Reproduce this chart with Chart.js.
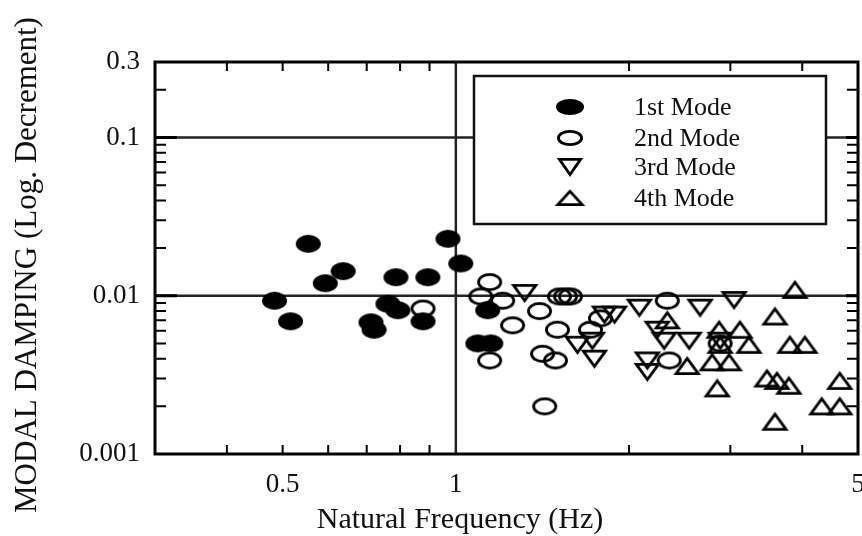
<!DOCTYPE html>
<html>
<head>
<meta charset="utf-8">
<script src="https://cdn.jsdelivr.net/npm/chart.js@4.4.1/dist/chart.umd.min.js"></script>
<style>
html,body{margin:0;padding:0;background:#fff;}
#wrap{width:862px;height:536px;}
</style>
</head>
<body>
<div id="wrap"><canvas id="c" width="862" height="536"></canvas></div>
<script>
// ---------- data ----------
const seriesNames = ['1st Mode', '2nd Mode', '3rd Mode', '4th Mode'];

const mode1Freq = [0.484, 0.516, 0.554, 0.593, 0.637, 0.712, 0.721, 0.762, 0.793, 0.787, 0.894, 0.877, 0.969, 1.020, 1.136, 1.092, 1.150];
const mode1Damp = [0.0093, 0.0069, 0.0213, 0.0120, 0.0143, 0.0068, 0.0061, 0.0089, 0.0081, 0.0131, 0.0131, 0.0069, 0.0229, 0.0160, 0.0081, 0.0050, 0.0050];

const mode2Freq = [0.877, 1.145, 1.105, 1.206, 1.398, 1.255, 1.514, 1.551, 1.582, 1.502, 1.145, 1.415, 1.490, 1.427, 1.714, 1.784, 2.331, 2.349, 2.880];
const mode2Damp = [0.0083, 0.0122, 0.0099, 0.0093, 0.0080, 0.0065, 0.0099, 0.0099, 0.0099, 0.0061, 0.0039, 0.0043, 0.0039, 0.0020, 0.0061, 0.0072, 0.0093, 0.0039, 0.0050];

const mode3Freq = [1.317, 1.627, 1.727, 1.741, 1.812, 1.887, 2.084, 2.658, 3.045, 2.239, 2.302, 2.544, 2.152, 2.152, 2.880];
const mode3Damp = [0.0104, 0.0049, 0.0052, 0.0040, 0.0076, 0.0076, 0.0084, 0.0084, 0.0094, 0.0061, 0.0052, 0.0052, 0.0039, 0.0033, 0.0052];

const mode4Freq = [3.885, 3.586, 2.331, 2.868, 3.118, 3.232, 2.524, 2.789, 2.985, 2.846, 3.807, 4.043, 3.473, 3.615, 3.792, 4.648, 4.325, 4.648, 3.586, 2.880];
const mode4Damp = [0.0109, 0.0074, 0.0070, 0.0061, 0.0061, 0.0049, 0.0036, 0.0038, 0.0038, 0.0026, 0.0049, 0.0049, 0.0030, 0.0029, 0.0027, 0.0029, 0.0020, 0.0020, 0.0016, 0.0049];

const xTickValues = [0.5, 1, 5];
const yTickValues = [0.001, 0.01, 0.1, 0.3];
const xMinorTicks = [0.4, 0.5, 0.6, 0.7, 0.8, 0.9, 2, 3, 4];
const yMinorTicks = [0.002, 0.003, 0.004, 0.005, 0.006, 0.007, 0.008, 0.009,
                     0.02, 0.03, 0.04, 0.05, 0.06, 0.07, 0.08, 0.09, 0.2];
const yGridValues = [0.01, 0.1];
const xGridValues = [1];
const xTitle = 'Natural Frequency (Hz)';
const yTitle = 'MODAL DAMPING (Log. Decrement)';

// ---------- markers ----------
function makeMarker(kind, w, h, lw) {
  const pad = 3;
  const c = document.createElement('canvas');
  c.width = Math.round(w + 2 * pad);
  c.height = Math.round(h + 2 * pad);
  const g = c.getContext('2d');
  const cx = c.width / 2, cy = c.height / 2;
  g.strokeStyle = '#000';
  g.fillStyle = '#000';
  g.lineWidth = lw;
  g.lineJoin = 'miter';
  g.beginPath();
  if (kind === 'filled') {
    g.ellipse(cx, cy, w / 2, h / 2, 0, 0, Math.PI * 2);
    g.fill();
  } else if (kind === 'open') {
    g.ellipse(cx, cy, w / 2 - lw / 2, h / 2 - lw / 2, 0, 0, Math.PI * 2);
    g.stroke();
  } else if (kind === 'down') {
    g.moveTo(cx - w / 2 + lw / 2, cy - h / 2 + lw / 2);
    g.lineTo(cx + w / 2 - lw / 2, cy - h / 2 + lw / 2);
    g.lineTo(cx, cy + h / 2 - lw / 2);
    g.closePath();
    g.stroke();
  } else {
    g.moveTo(cx - w / 2 + lw / 2, cy + h / 2 - lw / 2);
    g.lineTo(cx + w / 2 - lw / 2, cy + h / 2 - lw / 2);
    g.lineTo(cx, cy - h / 2 + lw / 2);
    g.closePath();
    g.stroke();
  }
  return c;
}
const markerKinds = ['filled', 'open', 'down', 'up'];
const dataMarkers = markerKinds.map(k => makeMarker(k, 25, 18, 2.8));
const legendMarkers = [
  makeMarker('filled', 28, 16, 2.8),
  makeMarker('open', 26, 16, 2.8),
  makeMarker('down', 24, 18, 2.8),
  makeMarker('up', 27, 16, 2.8)
];

function pts(xs, ys) { return xs.map((x, i) => ({ x: x, y: ys[i] })); }
const allFreq = [mode1Freq, mode2Freq, mode3Freq, mode4Freq];
const allDamp = [mode1Damp, mode2Damp, mode3Damp, mode4Damp];

const datasets = seriesNames.map((name, i) => ({
  label: name,
  data: pts(allFreq[i], allDamp[i]),
  pointStyle: dataMarkers[i],
  pointRadius: 10,
  pointHoverRadius: 10,
  showLine: false
}));

const SERIF = '"Liberation Serif", "Times New Roman", serif';
const INK = '#111';

// ---------- custom drawing plugin ----------
const framePlugin = {
  id: 'framePlugin',
  beforeDatasetsDraw(chart) {
    const { ctx, chartArea: a, scales: { x, y } } = chart;
    ctx.save();
    ctx.strokeStyle = '#222';
    ctx.lineWidth = 2.5;
    yGridValues.forEach(v => {
      const py = y.getPixelForValue(v);
      ctx.beginPath(); ctx.moveTo(a.left, py); ctx.lineTo(a.right, py); ctx.stroke();
    });
    xGridValues.forEach(v => {
      const px = x.getPixelForValue(v);
      ctx.beginPath(); ctx.moveTo(px, a.top); ctx.lineTo(px, a.bottom); ctx.stroke();
    });
    ctx.strokeStyle = '#000';
    ctx.lineWidth = 2;
    yMinorTicks.forEach(v => {
      const py = y.getPixelForValue(v);
      ctx.beginPath();
      ctx.moveTo(a.left, py); ctx.lineTo(a.left + 11, py);
      ctx.moveTo(a.right, py); ctx.lineTo(a.right - 11, py);
      ctx.stroke();
    });
    xMinorTicks.forEach(v => {
      const px = x.getPixelForValue(v);
      ctx.beginPath();
      ctx.moveTo(px, a.bottom); ctx.lineTo(px, a.bottom - 9);
      ctx.moveTo(px, a.top); ctx.lineTo(px, a.top + 9);
      ctx.stroke();
    });
    ctx.lineWidth = 3.2;
    yGridValues.forEach(v => {
      const py = y.getPixelForValue(v);
      ctx.beginPath();
      ctx.moveTo(a.left, py); ctx.lineTo(a.left + 22, py);
      ctx.moveTo(a.right, py); ctx.lineTo(a.right - 12, py);
      ctx.stroke();
    });
    ctx.restore();
  },
  afterDatasetsDraw(chart) {
    const { ctx, chartArea: a } = chart;
    ctx.save();
    ctx.strokeStyle = '#000';
    ctx.lineWidth = 3;
    ctx.strokeRect(a.left, a.top, a.right - a.left, a.bottom - a.top);
    ctx.restore();
  },
  afterDraw(chart) {
    const { ctx } = chart;
    ctx.save();
    ctx.fillStyle = '#fff';
    ctx.fillRect(474, 76, 352, 148);
    ctx.strokeStyle = '#111';
    ctx.lineWidth = 2.5;
    ctx.strokeRect(474, 76, 352, 148);
    const rows = [107, 138, 167, 198];
    ctx.font = '26px ' + SERIF;
    ctx.fillStyle = INK;
    ctx.textAlign = 'left';
    ctx.textBaseline = 'middle';
    chart.data.datasets.forEach((ds, i) => {
      const m = legendMarkers[i];
      ctx.drawImage(m, 570 - m.width / 2, rows[i] - m.height / 2);
      ctx.fillText(ds.label, 634, rows[i] + 1);
    });
    ctx.textAlign = 'center';
    ctx.textBaseline = 'alphabetic';
    ctx.font = '30px ' + SERIF;
    ctx.fillText(xTitle, 460, 528);
    ctx.translate(36, 265);
    ctx.rotate(-Math.PI / 2);
    ctx.font = '31px ' + SERIF;
    ctx.fillText(yTitle, 0, 0);
    ctx.restore();
  }
};

new Chart(document.getElementById('c'), {
  type: 'scatter',
  data: { datasets: datasets },
  options: {
    responsive: false,
    animation: false,
    events: [],
    layout: { autoPadding: false, padding: { top: 62, right: 4, left: 0, bottom: 0 } },
    plugins: { legend: { display: false }, tooltip: { enabled: false } },
    scales: {
      x: {
        type: 'logarithmic',
        min: 0.3,
        max: 5,
        grid: { display: false, drawTicks: false },
        border: { display: false },
        afterBuildTicks(s) { s.ticks = xTickValues.map(v => ({ value: v })); },
        afterFit(s) { s.height = 82; s.paddingLeft = 0; s.paddingRight = 0; },
        ticks: {
          autoSkip: false,
          maxRotation: 0,
          padding: 15,
          color: INK,
          font: { family: SERIF, size: 27 },
          callback: v => String(v)
        }
      },
      y: {
        type: 'logarithmic',
        min: 0.001,
        max: 0.3,
        grid: { display: false, drawTicks: false },
        border: { display: false },
        afterBuildTicks(s) { s.ticks = yTickValues.map(v => ({ value: v })); },
        afterFit(s) { s.width = 155; s.paddingTop = 0; s.paddingBottom = 0; },
        ticks: {
          autoSkip: false,
          padding: 15,
          color: INK,
          font: { family: SERIF, size: 27 },
          callback: v => String(v)
        }
      }
    }
  },
  plugins: [framePlugin]
});
</script>
</body>
</html>
